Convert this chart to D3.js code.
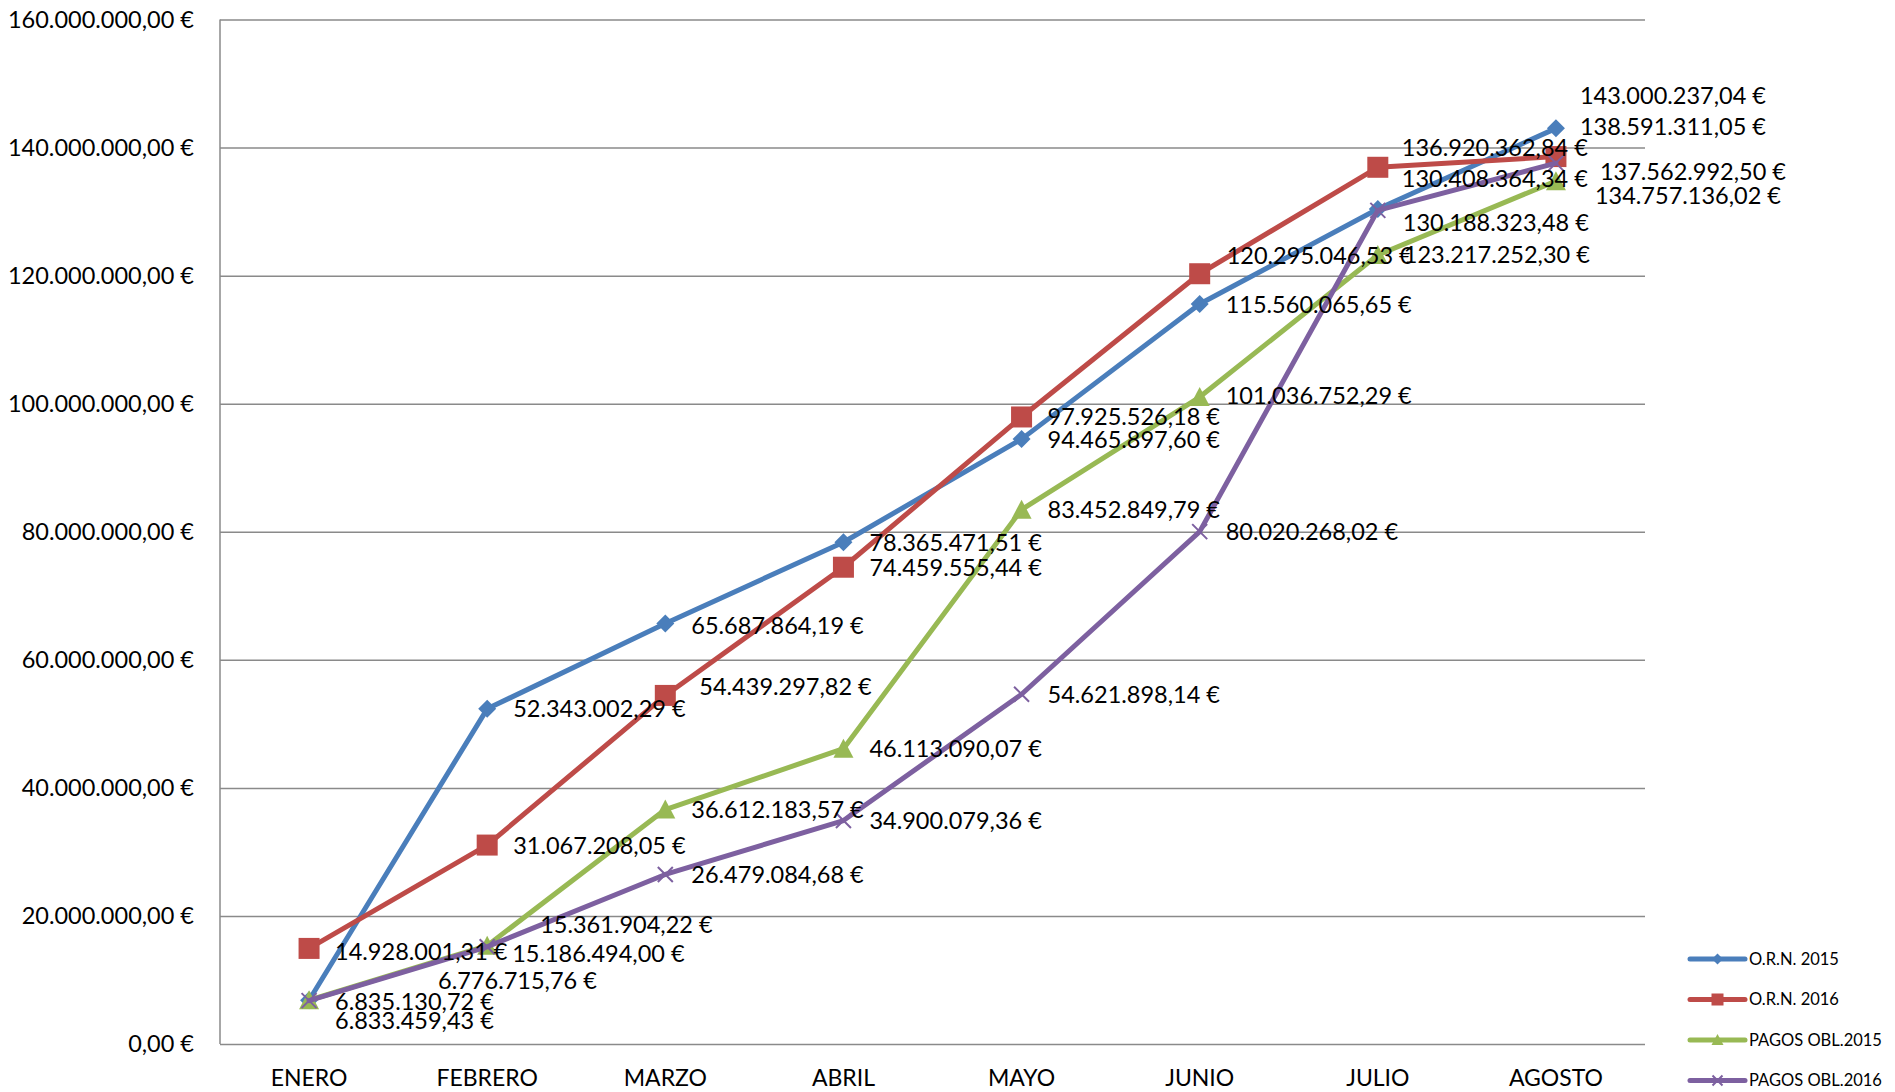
<!DOCTYPE html>
<html>
<head>
<meta charset="utf-8">
<script src="https://cdn.jsdelivr.net/npm/d3@7"></script>
<style>
  html, body { margin: 0; padding: 0; background: #fff; }
  svg { display: block; font-family: Lato, "Open Sans", sans-serif; }
</style>
</head>
<body>
<div id="chart"></div>
<script>
// Data
const months = ["ENERO", "FEBRERO", "MARZO", "ABRIL", "MAYO", "JUNIO", "JULIO", "AGOSTO"];
const seriesNames = ["O.R.N. 2015", "O.R.N. 2016", "PAGOS OBL.2015", "PAGOS OBL.2016"];
const orn2015 = [6835130.72, 52343002.29, 65687864.19, 78365471.51, 94465897.60, 115560065.65, 130408364.34, 143000237.04];
const orn2016 = [14928001.31, 31067208.05, 54439297.82, 74459555.44, 97925526.18, 120295046.53, 136920362.84, 138591311.05];
const pagos2015 = [6833459.43, 15361904.22, 36612183.57, 46113090.07, 83452849.79, 101036752.29, 123217252.30, 134757136.02];
const pagos2016 = [6776715.76, 15186494.00, 26479084.68, 34900079.36, 54621898.14, 80020268.02, 130188323.48, 137562992.50];
const yTicks = [0, 20000000, 40000000, 60000000, 80000000, 100000000, 120000000, 140000000, 160000000];

const colors = ["#4a7ebb", "#be4b48", "#98b954", "#7d60a0"];
const markers = ["diamond", "square", "triangle", "cross"];

// manual label nudges (the original labels were dragged around by hand)
const labelNudge = [
    [[0, 1], [0, 0], [0, 2], [0, 0], [0, 0], [0, 0], [-2, -30], [-2, -33]],
    [[0, 3], [0, 0], [8, -9], [0, 0], [0, 0], [1, -18], [-2, -20], [-2, -30]],
    [[0, 20], [27, -21], [0, 0], [0, 0], [0, 0], [0, -2], [0, 0], [13, 14]],
    [[103, -20], [-1, 7], [0, 0], [0, 0], [0, 0], [0, 0], [-1, 12], [18, 8]]
];

const W = 1895, H = 1092;
const plot = { left: 220, right: 1645, top: 19.5, bottom: 1044 };

const es = d3.formatLocale({ decimal: ",", thousands: ".", grouping: [3], currency: ["", " €"] });
const fmt = es.format("$,.2f");

const svg = d3.select("#chart").append("svg")
    .attr("width", W)
    .attr("height", H)
    .attr("viewBox", [0, 0, W, H]);

const x = d3.scaleBand().domain(months).range([plot.left, plot.right]);
const y = d3.scaleLinear().domain([0, 160000000]).range([plot.bottom, plot.top]);
const cx = m => x(m) + x.bandwidth() / 2;

// Y axis with gridlines
const yAxis = svg.append("g")
    .attr("transform", `translate(${plot.left},0)`)
    .call(d3.axisLeft(y)
        .tickValues(yTicks)
        .tickSize(-(plot.right - plot.left))
        .tickPadding(26)
        .tickFormat(fmt));
yAxis.select(".domain").remove();
yAxis.selectAll(".tick line")
    .attr("stroke", "#8a8a8a")
    .attr("stroke-width", 1.5);
yAxis.selectAll(".tick text")
    .attr("fill", "#000")
    .attr("font-size", "23.5px")
    .attr("font-family", "Lato, sans-serif");

// left axis line
svg.append("line")
    .attr("x1", plot.left).attr("x2", plot.left)
    .attr("y1", plot.top).attr("y2", plot.bottom)
    .attr("stroke", "#8a8a8a")
    .attr("stroke-width", 1.5);

// X axis labels
const xAxis = svg.append("g")
    .attr("transform", `translate(0,${plot.bottom})`)
    .call(d3.axisBottom(x).tickSize(0).tickPadding(26));
xAxis.select(".domain").remove();
xAxis.selectAll(".tick text")
    .attr("fill", "#000")
    .attr("font-size", "23px")
    .attr("font-family", "Lato, sans-serif");

function drawMarker(g, type, color, s) {
    if (type === "diamond") {
        g.append("path")
            .attr("d", `M0,${-s / 2}L${s / 2},0L0,${s / 2}L${-s / 2},0Z`)
            .attr("fill", color);
    } else if (type === "square") {
        g.append("rect")
            .attr("x", -s / 2).attr("y", -s / 2)
            .attr("width", s).attr("height", s)
            .attr("fill", color);
    } else if (type === "triangle") {
        g.append("path")
            .attr("d", `M0,${-s / 2}L${s / 2},${s / 2 - 1}L${-s / 2},${s / 2 - 1}Z`)
            .attr("fill", color);
    } else {
        const h = s / 2;
        g.append("path")
            .attr("d", `M${-h},${-h}L${h},${h}M${-h},${h}L${h},${-h}`)
            .attr("stroke", color)
            .attr("stroke-width", 2)
            .attr("fill", "none");
    }
}

const markerSize = [18, 21, 20, 15];
const allSeries = [orn2015, orn2016, pagos2015, pagos2016];

const line = d3.line()
    .x((d, i) => cx(months[i]))
    .y(d => y(d));

allSeries.forEach((vals, si) => {
    const g = svg.append("g");
    g.append("path")
        .datum(vals)
        .attr("d", line)
        .attr("fill", "none")
        .attr("stroke", colors[si])
        .attr("stroke-width", 5)
        .attr("stroke-linejoin", "round")
        .attr("stroke-linecap", "round");

    g.selectAll("g.mk")
        .data(vals)
        .join("g")
        .attr("class", "mk")
        .attr("transform", (d, i) => `translate(${cx(months[i])},${y(d)})`)
        .each(function () { drawMarker(d3.select(this), markers[si], colors[si], markerSize[si]); });
});

// data labels on top
allSeries.forEach((vals, si) => {
    svg.append("g")
        .selectAll("text")
        .data(vals)
        .join("text")
        .attr("x", (d, i) => cx(months[i]) + 26 + labelNudge[si][i][0])
        .attr("y", (d, i) => y(d) + labelNudge[si][i][1])
        .attr("dy", "0.36em")
        .attr("font-size", "23.5px")
        .attr("fill", "#000")
        .text(d => fmt(d));
});

// Legend
const legend = svg.append("g")
    .selectAll("g")
    .data(seriesNames)
    .join("g")
    .attr("transform", (d, i) => `translate(1690,${959 + i * 40.5})`);

legend.append("line")
    .attr("x1", 0).attr("x2", 55)
    .attr("stroke", (d, i) => colors[i])
    .attr("stroke-width", 5)
    .attr("stroke-linecap", "round");

legend.append("g")
    .attr("transform", "translate(27.5,0)")
    .each(function (d, i) { drawMarker(d3.select(this), markers[i], colors[i], [11, 12, 12, 10][i]); });

legend.append("text")
    .attr("x", 59)
    .attr("dy", "0.36em")
    .attr("font-size", "16.5px")
    .attr("fill", "#000")
    .text(d => d);
</script>
</body>
</html>
